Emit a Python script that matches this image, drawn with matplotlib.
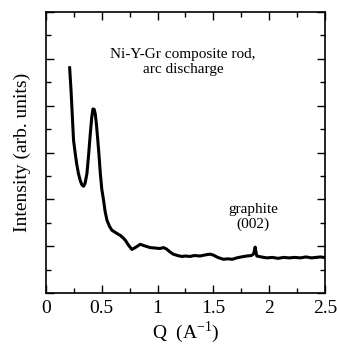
import matplotlib
matplotlib.use("Agg")
import matplotlib.pyplot as plt
from matplotlib.ticker import MultipleLocator, NullFormatter

plt.rcParams['font.family'] = ['Liberation Serif', 'DejaVu Serif']

q = [0.212, 0.225, 0.247, 0.262, 0.275, 0.29, 0.307, 0.322, 0.337, 0.35, 0.367,
     0.382, 0.397, 0.41, 0.421, 0.432, 0.442, 0.452, 0.462, 0.475, 0.487, 0.50,
     0.516, 0.53, 0.547, 0.57, 0.591, 0.63, 0.666, 0.69, 0.71, 0.74, 0.77, 0.80,
     0.845, 0.88, 0.934, 0.98, 1.02, 1.054, 1.08, 1.11, 1.14, 1.18, 1.218, 1.25,
     1.29, 1.33, 1.382, 1.42, 1.47, 1.50, 1.54, 1.59, 1.63, 1.67, 1.71, 1.75,
     1.80, 1.84, 1.86, 1.868, 1.875, 1.882, 1.89, 1.93, 1.98, 2.03, 2.08, 2.13,
     2.18, 2.23, 2.28, 2.33, 2.38, 2.42, 2.46, 2.49]
intensity = [4.81, 4.30, 3.26, 2.98, 2.76, 2.56, 2.40, 2.31, 2.28, 2.34, 2.55,
             2.95, 3.40, 3.75, 3.93, 3.92, 3.82, 3.60, 3.33, 2.95, 2.55, 2.22,
             1.98, 1.74, 1.55, 1.42, 1.34, 1.28, 1.23, 1.18, 1.13, 1.02, 0.93, 0.97,
             1.04, 1.01, 0.97, 0.96, 0.95, 0.97, 0.94, 0.88, 0.83, 0.80, 0.78, 0.79,
             0.78, 0.80, 0.79, 0.81, 0.83, 0.81, 0.76, 0.72, 0.73, 0.72, 0.75, 0.77,
             0.79, 0.80, 0.83, 0.90, 0.98, 0.88, 0.79, 0.77, 0.75, 0.76, 0.74, 0.76,
             0.75, 0.76, 0.75, 0.77, 0.75, 0.76, 0.77, 0.76]

fig = plt.figure(figsize=(3.37, 3.45), dpi=100)
ax = fig.add_axes([0.1365, 0.1507, 0.8275, 0.8145])
ax.plot(q, intensity, color='black', lw=2.2)

ax.set_xlim(0, 2.5)
ax.set_ylim(0, 6)
ax.xaxis.set_major_locator(MultipleLocator(0.5))
ax.xaxis.set_minor_locator(MultipleLocator(0.25))
ax.yaxis.set_major_locator(MultipleLocator(1))
ax.yaxis.set_minor_locator(MultipleLocator(0.5))
ax.yaxis.set_major_formatter(NullFormatter())
ax.set_xticks([0, 0.5, 1, 1.5, 2, 2.5])
ax.set_xticklabels(['0', '0.5', '1', '1.5', '2', '2.5'])
ax.tick_params(which='both', direction='in', top=True, right=True, width=1.0)
ax.tick_params(which='major', length=6, labelsize=14, pad=5)
ax.tick_params(which='minor', length=3.5)
for s in ax.spines.values():
    s.set_linewidth(1.2)

ax.set_ylabel('Intensity (arb. units)', fontsize=14, labelpad=6)
ax.set_xlabel('Q  (A$^{\\mathregular{-1}}$)', fontsize=14, labelpad=2)

ax.text(1.23, 4.93, 'Ni-Y-Gr composite rod,\narc discharge', ha='center', va='center',
        fontsize=11, linespacing=1.2)
ax.text(1.857, 1.62, 'graphite\n(002)', ha='center', va='center', fontsize=11,
        linespacing=1.1)

fig.savefig('out.png', dpi=100)
